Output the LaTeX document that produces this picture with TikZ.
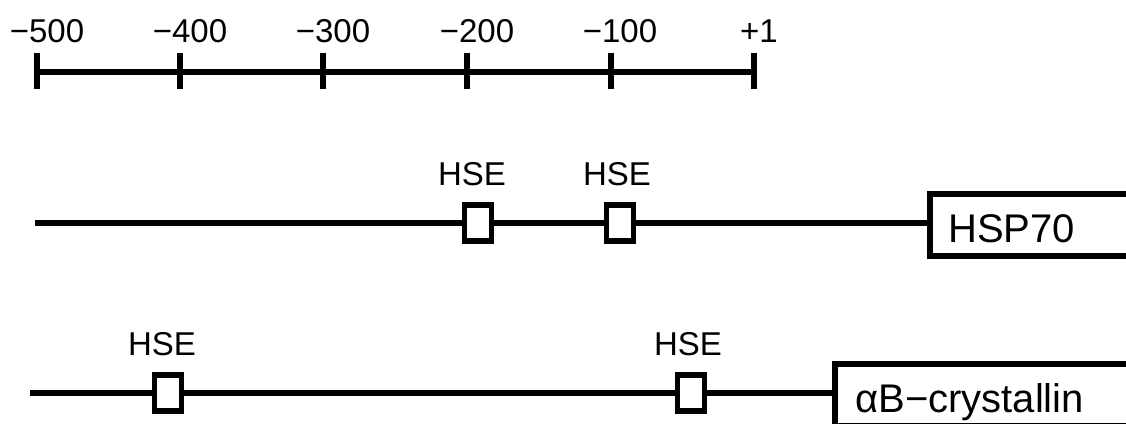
\documentclass[tikz,border=0pt]{standalone}
\usepackage{fontspec}
\setmainfont{Liberation Sans}
\begin{document}
\begin{tikzpicture}[x=1pt,y=-1pt,
  thick line/.style={line width=5.5pt},
  hsebox/.style={draw,line width=5.5pt,minimum width=27pt,minimum height=36pt,inner sep=0pt,fill=white},
  genebox/.style={draw,line width=5.5pt,anchor=west,minimum height=62pt,minimum width=300pt,inner sep=0pt,text depth=0pt},
  lbl/.style={anchor=base,inner sep=0pt,font=\fontsize{33}{40}\selectfont},
  glbl/.style={anchor=base west,inner sep=0pt,font=\fontsize{40}{48}\selectfont}]
\useasboundingbox (0,0) rectangle (1126,423);
% scale
\foreach \x/\n in {37/a,180/b,323/c,467/d,611/e,754/f}{
  \coordinate (t\n) at (\x,72);
  \draw[thick line] (\x,53) -- (\x,89);
}
\draw[thick line] (ta) -- (tf);
\node[lbl] (la) at (47,42) {−500};
\node[lbl] (lb) at (190,42) {−400};
\node[lbl] (lc) at (333,42) {−300};
\node[lbl] (ld) at (477,42) {−200};
\node[lbl] (le) at (620,42) {−100};
\node[lbl] (lf) at (759,42) {+1};
% HSP70 row
\coordinate (s1) at (35,223);
\node[hsebox] (h1a) at (478,223) {};
\node[hsebox] (h1b) at (620,223) {};
\node[genebox] (g1) at (927,225) {};
\node[glbl] (g1t) at (948,242) {HSP70};
\draw[thick line] (s1) -- (h1a) -- (h1b) -- (g1.west |- s1);
\node[lbl] (hl1a) at (472,185) {HSE};
\node[lbl] (hl1b) at (617,185) {HSE};
% alphaB row
\coordinate (s2) at (30,393);
\node[hsebox] (h2a) at (168,393) {};
\node[hsebox] (h2b) at (691,393) {};
\node[genebox] (g2) at (832,395) {};
\node[glbl] (g2t) at (855,412) {αB−crystallin};
\draw[thick line] (s2) -- (h2a) -- (h2b) -- (g2.west |- s2);
\node[lbl] (hl2a) at (162,355) {HSE};
\node[lbl] (hl2b) at (688,355) {HSE};
\end{tikzpicture}
\end{document}
